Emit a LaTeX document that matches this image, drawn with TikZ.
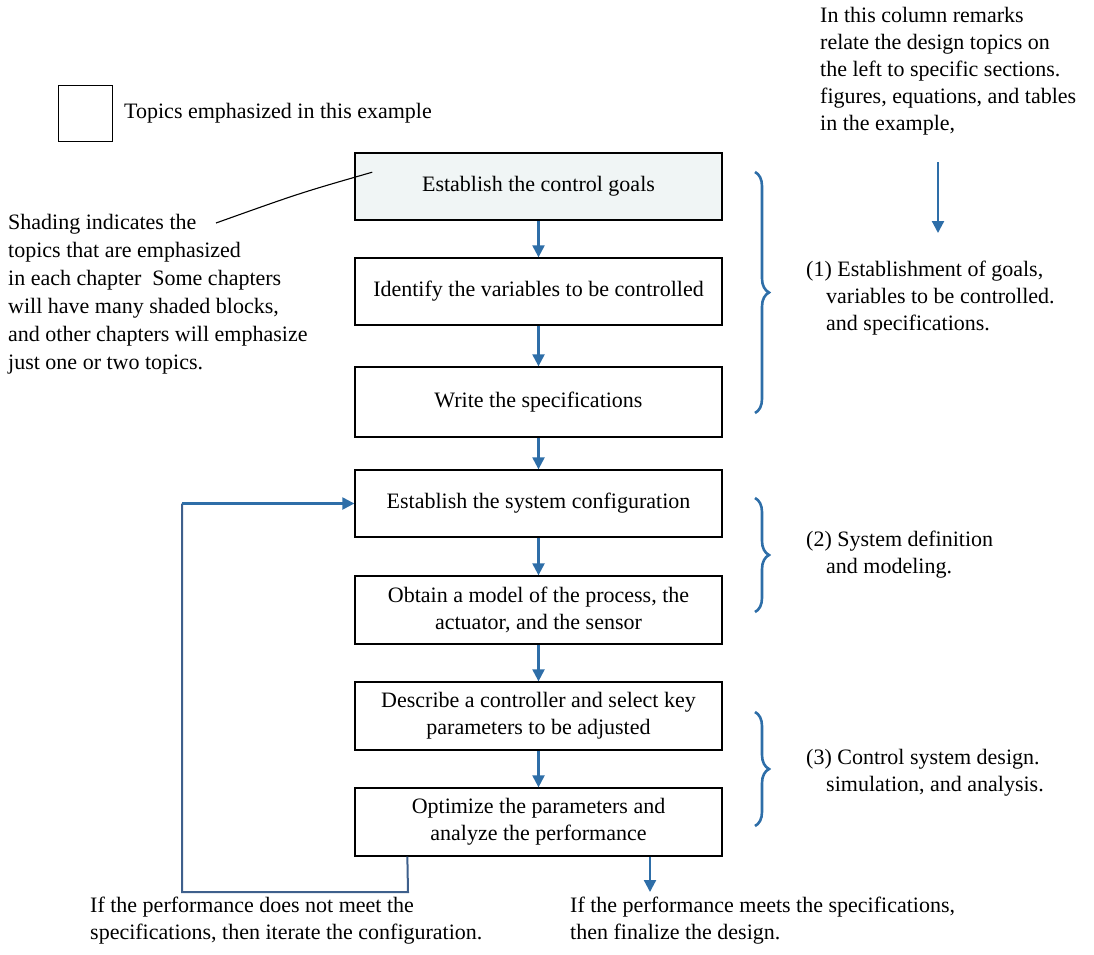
\documentclass[tikz,border=0pt]{standalone}
\usepackage{fontspec}
\setmainfont{Liberation Serif}
\usetikzlibrary{arrows.meta,decorations.pathreplacing}
\definecolor{flowblue}{RGB}{46,110,168}
\definecolor{loopblue}{RGB}{62,96,140}
\definecolor{shadefill}{RGB}{240,245,245}
\begin{document}
\begin{tikzpicture}[x=1pt,y=-1pt,
  every node/.style={font=\fontsize{22}{27}\selectfont, inner sep=0pt},
  stepbox/.style={draw=black, line width=1.3pt, minimum width=367pt, align=center},
  flow/.style={draw=flowblue, line width=2.2pt, -{Triangle[length=12pt,width=12pt]}},
  loopline/.style={draw=loopblue, line width=2pt},
  bracestyle/.style={draw=flowblue, line width=2.6pt, decorate, decoration={brace, amplitude=14pt}},
  note/.style={align=left, anchor=north west},
]
\useasboundingbox (0,0) rectangle (1094,954);

% legend
\node[draw=black, line width=1pt, minimum width=54pt, minimum height=56pt] (leg) at (85,113) {};
\node[anchor=west] (legtext) at (124,113) {Topics emphasized in this example};

% remarks column
\node[note] (remarks) at (820,7) {In this column remarks\\relate the design topics on\\the left to specific sections.\\figures, equations, and tables\\in the example,};
\coordinate (ra1) at (938,162);
\coordinate (ra2) at (938,233);
\draw[flow] (ra1) -- (ra2);

% shading note
\node[note, font=\fontsize{22}{28}\selectfont] (shading) at (8,214) {Shading indicates the\\topics that are emphasized\\in each chapter\ \ Some chapters\\will have many shaded blocks,\\and other chapters will emphasize\\just one or two topics.};

% steps
\node[stepbox, fill=shadefill, line width=1.6pt, minimum height=67pt] (b1) at (538.5,186.5) {Establish the control goals};
\node[stepbox, minimum height=67pt] (b2) at (538.5,291.5) {Identify the variables to be controlled};
\node[stepbox, minimum height=70pt] (b3) at (538.5,402) {Write the specifications};
\node[stepbox, minimum height=67pt] (b4) at (538.5,503.5) {Establish the system configuration};
\node[stepbox, minimum height=68pt] (b5) at (538.5,610) {Obtain a model of the process, the\\actuator, and the sensor};
\node[stepbox, minimum height=68pt] (b6) at (538.5,716) {Describe a controller and select key\\parameters to be adjusted};
\node[stepbox, minimum height=68pt] (b7) at (538.5,822) {Optimize the parameters and\\analyze the performance};

\coordinate (lead) at (216,223);
\draw[line width=1.1pt] (lead) .. controls (300,193) .. ([xshift=18pt,yshift=-20pt]b1.north west);

\draw[flow] (b1.south) -- (b2.north);
\draw[flow] (b2.south) -- (b3.north);
\draw[flow] (b3.south) -- (b4.north);
\draw[flow] (b4.south) -- (b5.north);
\draw[flow] (b5.south) -- (b6.north);
\draw[flow] (b6.south) -- (b7.north);

% loop back
\coordinate (lc1) at (408,892);
\coordinate (lc2) at (182,892);
\coordinate (lc3) at (182,503.5);
\draw[loopline] ([xshift=53pt]b7.south west) -- (lc1) -- (lc2) -- (lc3);
\draw[flow] (lc3) -- (b4.west);

% finish
\coordinate (fin) at (650,892);
\draw[flow] ([xshift=111.5pt]b7.south) -- (fin);

% braces
\draw[bracestyle] (755,172) -- (755,413);
\draw[bracestyle] (755,498) -- (755,612);
\draw[bracestyle] (755,712) -- (755,826);

\node[note] (g1) at (806,261) {(1) Establishment of goals,\\\hspace*{20pt}variables to be controlled.\\\hspace*{20pt}and specifications.};
\node[note] (g2) at (806,531) {(2) System definition\\\hspace*{20pt}and modeling.};
\node[note] (g3) at (806,749) {(3) Control system design.\\\hspace*{20pt}simulation, and analysis.};

% bottom remarks
\node[note] (nomeet) at (90,897) {If the performance does not meet the\\specifications, then iterate the configuration.};
\node[note] (meet) at (570,897) {If the performance meets the specifications,\\then finalize the design.};
\end{tikzpicture}
\end{document}
